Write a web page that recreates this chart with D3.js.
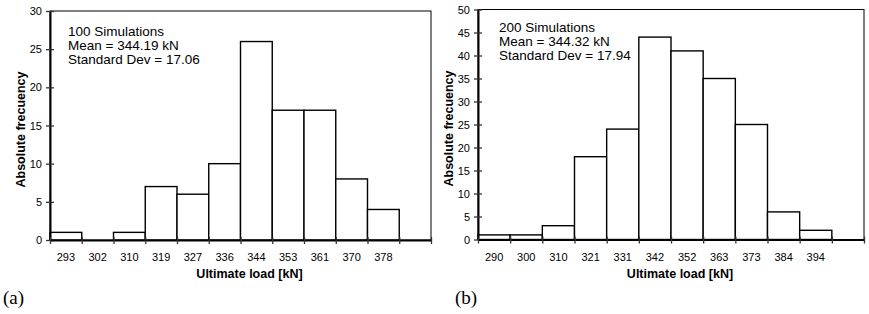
<!DOCTYPE html>
<html>
<head>
<meta charset="utf-8">
<script src="https://cdn.jsdelivr.net/npm/d3@7"></script>
<style>
  body { margin: 0; background: #fff; }
  svg { display: block; font-family: "Liberation Sans", Arial, sans-serif; }
</style>
</head>
<body>
<div id="chart"></div>
<script>
// histogram (a): 100 simulations
const binsA = ["293", "302", "310", "319", "327", "336", "344", "353", "361", "370", "378", ""];
const countsA = [1, 0, 1, 7, 6, 10, 26, 17, 17, 8, 4, 0];
const ticksA = [0, 5, 10, 15, 20, 25, 30];
const infoA = ["100 Simulations", "Mean = 344.19 kN", "Standard Dev = 17.06"];

// histogram (b): 200 simulations
const binsB = ["290", "300", "310", "321", "331", "342", "352", "363", "373", "384", "394", ""];
const countsB = [1, 1, 3, 18, 24, 44, 41, 35, 25, 6, 2, 0];
const ticksB = [0, 5, 10, 15, 20, 25, 30, 35, 40, 45, 50];
const infoB = ["200 Simulations", "Mean = 344.32 kN", "Standard Dev = 17.94"];

const W = 869, H = 314;
const svg = d3.select("#chart").append("svg")
  .attr("width", W).attr("height", H)
  .attr("viewBox", [0, 0, W, H]);

function drawHist(opt) {
  const { bins, counts, ticks, info, left, right, top, bottom, tag, tagX, yTitleX, infoX, infoY } = opt;
  const g = svg.append("g");

  const x = d3.scaleBand().domain(d3.range(bins.length)).range([left, right]).padding(0);
  const xEdge = d3.scaleLinear().domain([0, bins.length]).range([left, right]);
  const y = d3.scaleLinear().domain([0, d3.max(ticks)]).range([bottom, top]);

  // plot frame (thin top/right)
  g.append("rect")
    .attr("x", left).attr("y", top)
    .attr("width", right - left).attr("height", bottom - top)
    .attr("fill", "none").attr("stroke", "#000").attr("stroke-width", 1);

  // bars
  g.selectAll("rect.bar")
    .data(counts.map((c, i) => ({ i, c })).filter(d => d.c > 0))
    .join("rect")
    .attr("class", "bar")
    .attr("x", d => x(d.i))
    .attr("y", d => y(d.c))
    .attr("width", x.bandwidth())
    .attr("height", d => bottom - y(d.c))
    .attr("fill", "#fff")
    .attr("stroke", "#000")
    .attr("stroke-width", 1.4);

  // y axis
  const ya = g.append("g")
    .attr("transform", `translate(${left},0)`)
    .call(d3.axisLeft(y).tickValues(ticks).tickSize(0).tickPadding(0));
  ya.select(".domain").attr("stroke", "#000").attr("stroke-width", 2);
  ya.selectAll(".tick line").attr("x1", -4).attr("x2", 4).attr("stroke", "#333").attr("stroke-width", 1.3);
  ya.selectAll(".tick text").attr("x", -8).attr("font-size", 11)
    .attr("font-family", "'Liberation Sans', Arial, sans-serif").attr("fill", "#000");

  // x axis: tick marks at bin edges
  const xa = g.append("g")
    .attr("transform", `translate(0,${bottom})`)
    .call(d3.axisBottom(xEdge).tickValues(d3.range(bins.length + 1)).tickFormat("").tickSize(0));
  xa.select(".domain").attr("stroke", "#000").attr("stroke-width", 2);
  xa.selectAll(".tick line").attr("y1", -3).attr("y2", 4).attr("stroke", "#333").attr("stroke-width", 1.3);

  // x labels centered in bins
  const xl = g.append("g")
    .attr("transform", `translate(0,${bottom})`)
    .call(d3.axisBottom(x).tickFormat(i => bins[i]).tickSize(0));
  xl.select(".domain").remove();
  xl.selectAll(".tick text").attr("y", 21).attr("dy", 0).attr("font-size", 11)
    .attr("font-family", "'Liberation Sans', Arial, sans-serif").attr("fill", "#000");

  // axis titles
  g.append("text")
    .attr("x", (left + right) / 2 + 9)
    .attr("y", bottom + 38)
    .attr("text-anchor", "middle")
    .attr("font-size", 12.5).attr("font-weight", "bold")
    .text("Ultimate load [kN]");

  g.append("text")
    .attr("transform", `translate(${yTitleX},${(top + bottom) / 2 + 4}) rotate(-90)`)
    .attr("text-anchor", "middle")
    .attr("font-size", 12.5).attr("font-weight", "bold")
    .text("Absolute frecuency");

  // info block
  g.append("g").selectAll("text")
    .data(info)
    .join("text")
    .attr("x", infoX)
    .attr("y", (d, i) => infoY + i * 14)
    .attr("font-size", 13.5)
    .text(d => d);

  // panel tag
  g.append("text")
    .attr("x", tagX).attr("y", 304)
    .attr("font-family", "'Liberation Serif', 'Times New Roman', serif")
    .attr("font-size", 19)
    .text(tag);
}

drawHist({
  bins: binsA, counts: countsA, ticks: ticksA, info: infoA,
  left: 50, right: 431, top: 11, bottom: 240,
  tag: "(a)", tagX: 3, yTitleX: 25, infoX: 68, infoY: 36
});

drawHist({
  bins: binsB, counts: countsB, ticks: ticksB, info: infoB,
  left: 478, right: 864, top: 9.5, bottom: 239.5,
  tag: "(b)", tagX: 455, yTitleX: 453, infoX: 499, infoY: 32
});
</script>
</body>
</html>
